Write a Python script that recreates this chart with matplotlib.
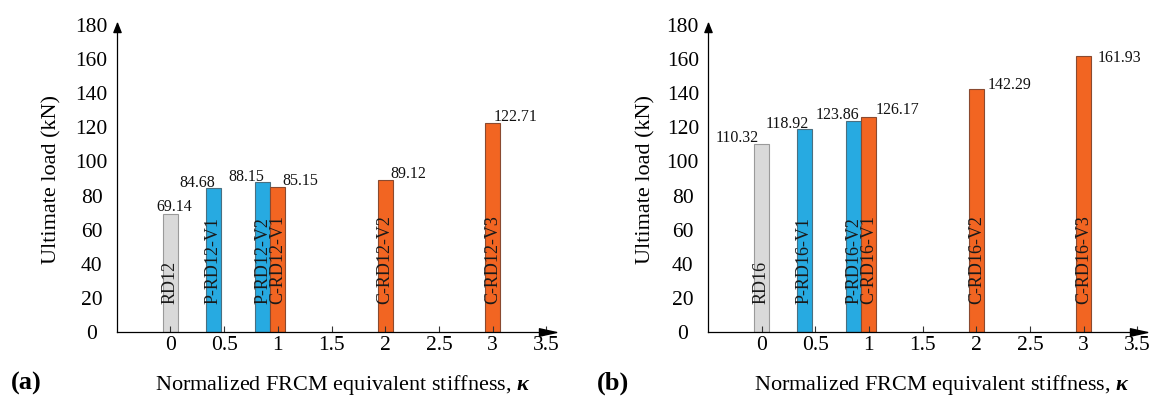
import matplotlib
matplotlib.use("Agg")
import matplotlib.pyplot as plt
from matplotlib.path import Path
import numpy as np

plt.rcParams['font.family'] = ['Liberation Serif', 'DejaVu Serif']
plt.rcParams['mathtext.fontset'] = 'custom'
plt.rcParams['mathtext.rm'] = 'Liberation Serif'
plt.rcParams['mathtext.it'] = 'Liberation Serif:italic'
plt.rcParams['mathtext.bf'] = 'Liberation Serif:italic:bold'

# ---------------- data ----------------
kappa = [0, 0.4, 0.86, 1, 2, 3]
groups = ['ref', 'P', 'P', 'C', 'C', 'C']

names_a = ['RD12', 'P-RD12-V1', 'P-RD12-V2', 'C-RD12-V1', 'C-RD12-V2', 'C-RD12-V3']
loads_a = [69.14, 84.68, 88.15, 85.15, 89.12, 122.71]

names_b = ['RD16', 'P-RD16-V1', 'P-RD16-V2', 'C-RD16-V1', 'C-RD16-V2', 'C-RD16-V3']
loads_b = [110.32, 118.92, 123.86, 126.17, 142.29, 161.93]

xticks = [0, 0.5, 1, 1.5, 2, 2.5, 3, 3.5]
xtick_labels = ['0', '0.5', '1', '1.5', '2', '2.5', '3', '3.5']
yticks = list(range(0, 181, 20))

# ---------------- style / layout ----------------
colors = {'ref': '#d9d9d9', 'P': '#27aae1', 'C': '#f26522'}
edges = {'ref': '#9a9a9a', 'P': '#4a6f80', 'C': '#8a4a30'}
# value-label offsets (points): dx, dy relative to bar top centre
offs_a = [(2.6, 1.9), (-11.3, 0.7), (-12.0, 0.2), (16.3, 1.4), (16.3, 1.2), (16.8, 1.2)]
offs_b = [(-17.8, 1.2), (-12.7, 0.7), (-12.0, 1.2), (20.3, 1.7), (23.9, 0.0), (25.7, -4.1)]

W, H = 1164, 401
fig = plt.figure(figsize=(W / 100, H / 100), dpi=100)

xlim = (-0.5, 3.59)
ylim = (0, 181.2)
ax_w = 439.3 / W
ax_h = 309.0 / H
ax_b = (H - 332.0) / H

arrow_x = Path([(0, 0), (-1, 0.22), (-1, -0.22), (0, 0)],
               [Path.MOVETO, Path.LINETO, Path.LINETO, Path.CLOSEPOLY])
arrow_y = Path([(0, 0), (-0.4, -1), (0.4, -1), (0, 0)],
               [Path.MOVETO, Path.LINETO, Path.LINETO, Path.CLOSEPOLY])


def panel(left_px, names, loads, offs, xlab_cx, ylab_cx, tag, tag_cx):
    ax = fig.add_axes([left_px / W, ax_b, ax_w, ax_h])
    for x, g, v, nm, (dx, dy) in zip(kappa, groups, loads, names, offs):
        ax.bar(x, v, width=0.14, color=colors[g], edgecolor=edges[g],
               linewidth=0.8, zorder=1)
        ax.text(x, 16.5, nm, rotation=90, ha='center', va='bottom',
                fontsize=13, color='#1a1a1a', zorder=3)
        ax.annotate(f"{v:.2f}", xy=(x, v), xytext=(dx, dy),
                    textcoords='offset points', ha='center', va='baseline',
                    fontsize=11.5, color='#111111')
    ax.set_xlim(*xlim)
    ax.set_ylim(*ylim)
    for s in ['top', 'right']:
        ax.spines[s].set_visible(False)
    for s in ['left', 'bottom']:
        ax.spines[s].set_linewidth(0.9)
        ax.spines[s].set_color('black')
    ax.set_xticks(xticks)
    ax.set_xticklabels(xtick_labels)
    ax.set_yticks(yticks)
    ax.tick_params(axis='x', direction='in', length=4.3, width=0.8,
                   color='#333333', labelsize=15.5, pad=3)
    ax.tick_params(axis='y', length=0, labelsize=15.5, pad=18)
    for lab in ax.get_yticklabels():
        lab.set_horizontalalignment('center')
    ax.plot(1, 0, marker=arrow_x, markersize=24.5, color='black',
            transform=ax.get_yaxis_transform(), clip_on=False)
    ax.plot(xlim[0], 1, marker=arrow_y, markersize=13, color='black',
            transform=ax.get_xaxis_transform(), clip_on=False)
    fig.text(xlab_cx / W, (H - 390) / H,
             r"Normalized FRCM equivalent stiffness, $\mathbf{κ}$",
             ha='center', va='baseline', fontsize=16)
    fig.text(ylab_cx / W, (H - 180) / H, "Ultimate load (kN)", rotation=90,
             ha='center', va='center', fontsize=16)
    fig.text(tag_cx / W, (H - 390) / H, tag, ha='center', va='baseline',
             fontsize=19, fontweight='bold')
    return ax


panel(116.7, names_a, loads_a, offs_a, 342.6, 52, '(a)', 26)
panel(707.8, names_b, loads_b, offs_b, 942, 646, '(b)', 613)

fig.savefig('out.png', dpi=100)
